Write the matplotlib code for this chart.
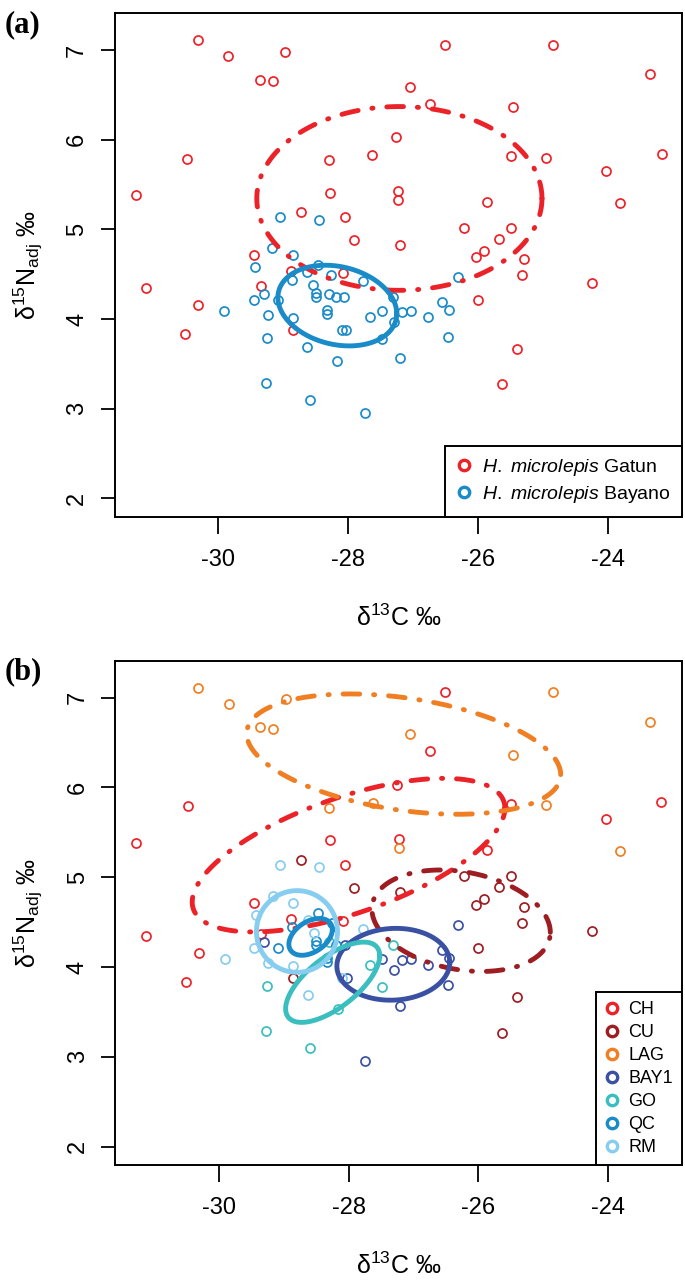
import numpy as np
import matplotlib
matplotlib.use('Agg')
import matplotlib.pyplot as plt
from matplotlib.lines import Line2D

plt.rcParams['font.family'] = ['Liberation Sans', 'DejaVu Sans']
plt.rcParams['mathtext.fontset'] = 'custom'
plt.rcParams['mathtext.rm'] = 'Liberation Sans'
plt.rcParams['mathtext.it'] = 'Liberation Sans:italic'
plt.rcParams['lines.scale_dashes'] = False

# ---------------- data (d13C, d15N) per site ----------------
CH_x = [-30.48, -31.27, -27.26, -28.28, -28.05, -29.46, -28.89, -27.23, -26.52, -26.74,
        -25.49, -23.18, -24.03, -25.86, -31.12, -30.31, -30.51, -29.35, -28.09]
CH_y = [5.79, 5.38, 6.03, 5.41, 5.14, 4.71, 4.53, 5.43, 7.06, 6.40,
        5.82, 5.84, 5.65, 5.30, 4.35, 4.16, 3.83, 4.37, 4.51]
CU_x = [-28.73, -27.92, -27.20, -26.22, -25.49, -25.68, -25.91, -26.04, -25.29, -25.32,
        -24.25, -26.00, -25.41, -25.63, -28.85]
CU_y = [5.19, 4.88, 4.83, 5.01, 5.01, 4.89, 4.76, 4.69, 4.67, 4.49,
        4.40, 4.21, 3.66, 3.27, 3.88]
LAG_x = [-30.32, -29.85, -28.97, -29.36, -29.16, -28.30, -27.63, -27.23, -24.85, -23.35,
         -27.05, -25.46, -24.96, -23.82]
LAG_y = [7.11, 6.93, 6.98, 6.67, 6.65, 5.77, 5.83, 5.33, 7.06, 6.73,
         6.59, 6.36, 5.80, 5.29]
BAY1_x = [-26.31, -26.56, -26.45, -26.77, -27.03, -27.17, -27.30, -26.47, -27.20, -27.49,
          -29.30, -27.74, -28.06, -28.03]
BAY1_y = [4.47, 4.19, 4.10, 4.02, 4.09, 4.08, 3.97, 3.80, 3.57, 4.09,
          4.28, 2.95, 4.25, 3.88]
GO_x = [-27.49, -27.31, -29.26, -29.27, -28.59, -28.17, -28.30, -27.67]
GO_y = [3.78, 4.25, 3.79, 3.29, 3.10, 3.53, 4.28, 4.02]
QC_x = [-28.47, -29.08, -28.87, -28.50, -28.50, -28.19, -28.33, -28.33, -28.26]
QC_y = [4.60, 4.21, 4.44, 4.29, 4.24, 4.25, 4.10, 4.06, 4.49]
RM_x = [-29.05, -28.45, -29.17, -28.85, -29.43, -29.91, -29.45, -29.24, -28.63, -28.86,
        -28.63, -28.54, -28.10, -27.77]
RM_y = [5.14, 5.11, 4.79, 4.71, 4.58, 4.09, 4.21, 4.04, 3.69, 4.01,
        4.52, 4.38, 3.88, 4.42]

sites = ['CH', 'CU', 'LAG', 'BAY1', 'GO', 'QC', 'RM']
site_x = [CH_x, CU_x, LAG_x, BAY1_x, GO_x, QC_x, RM_x]
site_y = [CH_y, CU_y, LAG_y, BAY1_y, GO_y, QC_y, RM_y]
site_colors = ['#EC2229', '#9D1D22', '#F07E22', '#3A51A3', '#3ABEC0', '#1A8BC9', '#86CDF0']
site_dashed = [True, True, True, False, False, False, False]

# standard ellipses: centre, x half-extent, y half-extent, correlation
ellB_cx = [-28.00, -26.265, -27.15, -27.31, -28.245, -28.585, -28.795]
ellB_cy = [5.245, 4.515, 6.37, 4.03, 3.83, 4.335, 4.395]
ellB_sx = [2.41, 1.375, 2.42, 0.87, 0.725, 0.335, 0.625]
ellB_sy = [0.855, 0.565, 0.67, 0.40, 0.447, 0.205, 0.455]
ellB_r = [0.61, -0.23, -0.34, 0.05, 0.66, 0.40, 0.0]

groups_a = ['H. microlepis Gatun', 'H. microlepis Bayano']
group_a_colors = ['#EC2229', '#1A8BC9']
ellA_cx = [-27.215, -28.17]
ellA_cy = [5.345, 4.15]
ellA_sx = [2.195, 0.915]
ellA_sy = [1.025, 0.45]
ellA_r = [0.0, -0.2]

xticks = [-30, -28, -26, -24]
yticks = [2, 3, 4, 5, 6, 7]
XLIM = (-31.6, -22.86)
YLIM = (1.795, 7.41)

DASH = (0, (12, 10, 0.8, 10))


def ellipse(cx, cy, sx, sy, r, n=500):
    t = np.linspace(0, 2 * np.pi, n)
    x = cx + sx * np.cos(t)
    y = cy + sy * (r * np.cos(t) + np.sqrt(1 - r * r) * np.sin(t))
    return x, y


def style_axes(ax):
    ax.set_xlim(*XLIM)
    ax.set_ylim(*YLIM)
    ax.set_xticks(xticks)
    ax.set_yticks(yticks)
    ax.set_xticklabels([str(v) for v in xticks])
    ax.set_yticklabels([str(v) for v in yticks])
    for s in ax.spines.values():
        s.set_linewidth(1.4)
        s.set_color('black')
    ax.tick_params(axis='x', length=12, width=1.3, pad=11, labelsize=17)
    ax.tick_params(axis='y', length=10, width=1.3, pad=9, labelsize=17, labelrotation=90)
    for lab in ax.get_yticklabels():
        lab.set_verticalalignment('center')
    ax.set_xlabel('δ$^{13}$C ‰', fontsize=18)
    ax.set_ylabel('δ$^{15}$N$_{\\mathregular{adj}}$ ‰', fontsize=18)
    ax.xaxis.set_label_coords(0.5, -0.2)
    ax.xaxis.label.set_verticalalignment('center')
    ax.yaxis.set_label_coords(-0.152, 0.5)
    ax.yaxis.label.set_verticalalignment('center')
    ax.yaxis.label.set_horizontalalignment('center')


W, H = 685, 1284
fig = plt.figure(figsize=(W / 100, H / 100), dpi=100)
axA = fig.add_axes([114.5 / W, 1 - 516.7 / H, (682.3 - 114.5) / W, (516.7 - 13.3) / H])
axB = fig.add_axes([115 / W, 1 - 1165 / H, (682 - 115) / W, (1165 - 660.7) / H])

MS, MEW = 6.5, 1.25

# ---------- panel (a) ----------
gat_x = CH_x + CU_x + LAG_x
gat_y = CH_y + CU_y + LAG_y
bay_x = BAY1_x + GO_x + QC_x + RM_x
bay_y = BAY1_y + GO_y + QC_y + RM_y
for gx, gy, c in [(gat_x, gat_y, group_a_colors[0]), (bay_x, bay_y, group_a_colors[1])]:
    axA.plot(gx, gy, ls='none', marker='o', ms=MS, mfc='none', mec=c, mew=MEW, zorder=2)
for i in range(2):
    ex, ey = ellipse(ellA_cx[i], ellA_cy[i], ellA_sx[i], ellA_sy[i], ellA_r[i])
    axA.plot(ex, ey, color=group_a_colors[i], lw=3.5,
             ls=DASH if i == 0 else '-', dash_capstyle='round', zorder=3)
style_axes(axA)
hA = [Line2D([], [], ls='none', marker='o', ms=7.5, mfc='none', mec=c, mew=2.4)
      for c in group_a_colors]
labA = [r'$\mathit{H.\ microlepis}$ Gatun', r'$\mathit{H.\ microlepis}$ Bayano']
legA = axA.legend(hA, labA, loc='lower right', borderaxespad=0, fontsize=14,
                  fancybox=False, framealpha=1, edgecolor='black',
                  handlelength=0.8, handletextpad=0.5, borderpad=0.6, labelspacing=0.3)
legA.get_frame().set_linewidth(1.4)

# ---------- panel (b) ----------
for x, y, c in zip(site_x, site_y, site_colors):
    axB.plot(x, y, ls='none', marker='o', ms=MS, mfc='none', mec=c, mew=MEW, zorder=2)
for i in range(len(sites)):
    ex, ey = ellipse(ellB_cx[i], ellB_cy[i], ellB_sx[i], ellB_sy[i], ellB_r[i])
    axB.plot(ex, ey, color=site_colors[i], lw=3.5,
             ls=DASH if site_dashed[i] else '-', dash_capstyle='round', zorder=3)
style_axes(axB)
hB = [Line2D([], [], ls='none', marker='o', ms=7.5, mfc='none', mec=c, mew=2.4)
      for c in site_colors]
legB = axB.legend(hB, sites, loc='lower right', borderaxespad=0, fontsize=13,
                  fancybox=False, framealpha=1, edgecolor='black',
                  handlelength=0.8, handletextpad=0.5, borderpad=0.5, labelspacing=0.33)
legB.get_frame().set_linewidth(1.4)

fig.text(5 / W, 1 - 10 / H, '(a)', ha='left', va='top', fontsize=22,
         fontweight='bold', family='Liberation Serif')
fig.text(5 / W, 1 - 657 / H, '(b)', ha='left', va='top', fontsize=22,
         fontweight='bold', family='Liberation Serif')

fig.savefig('out.png', dpi=100)
